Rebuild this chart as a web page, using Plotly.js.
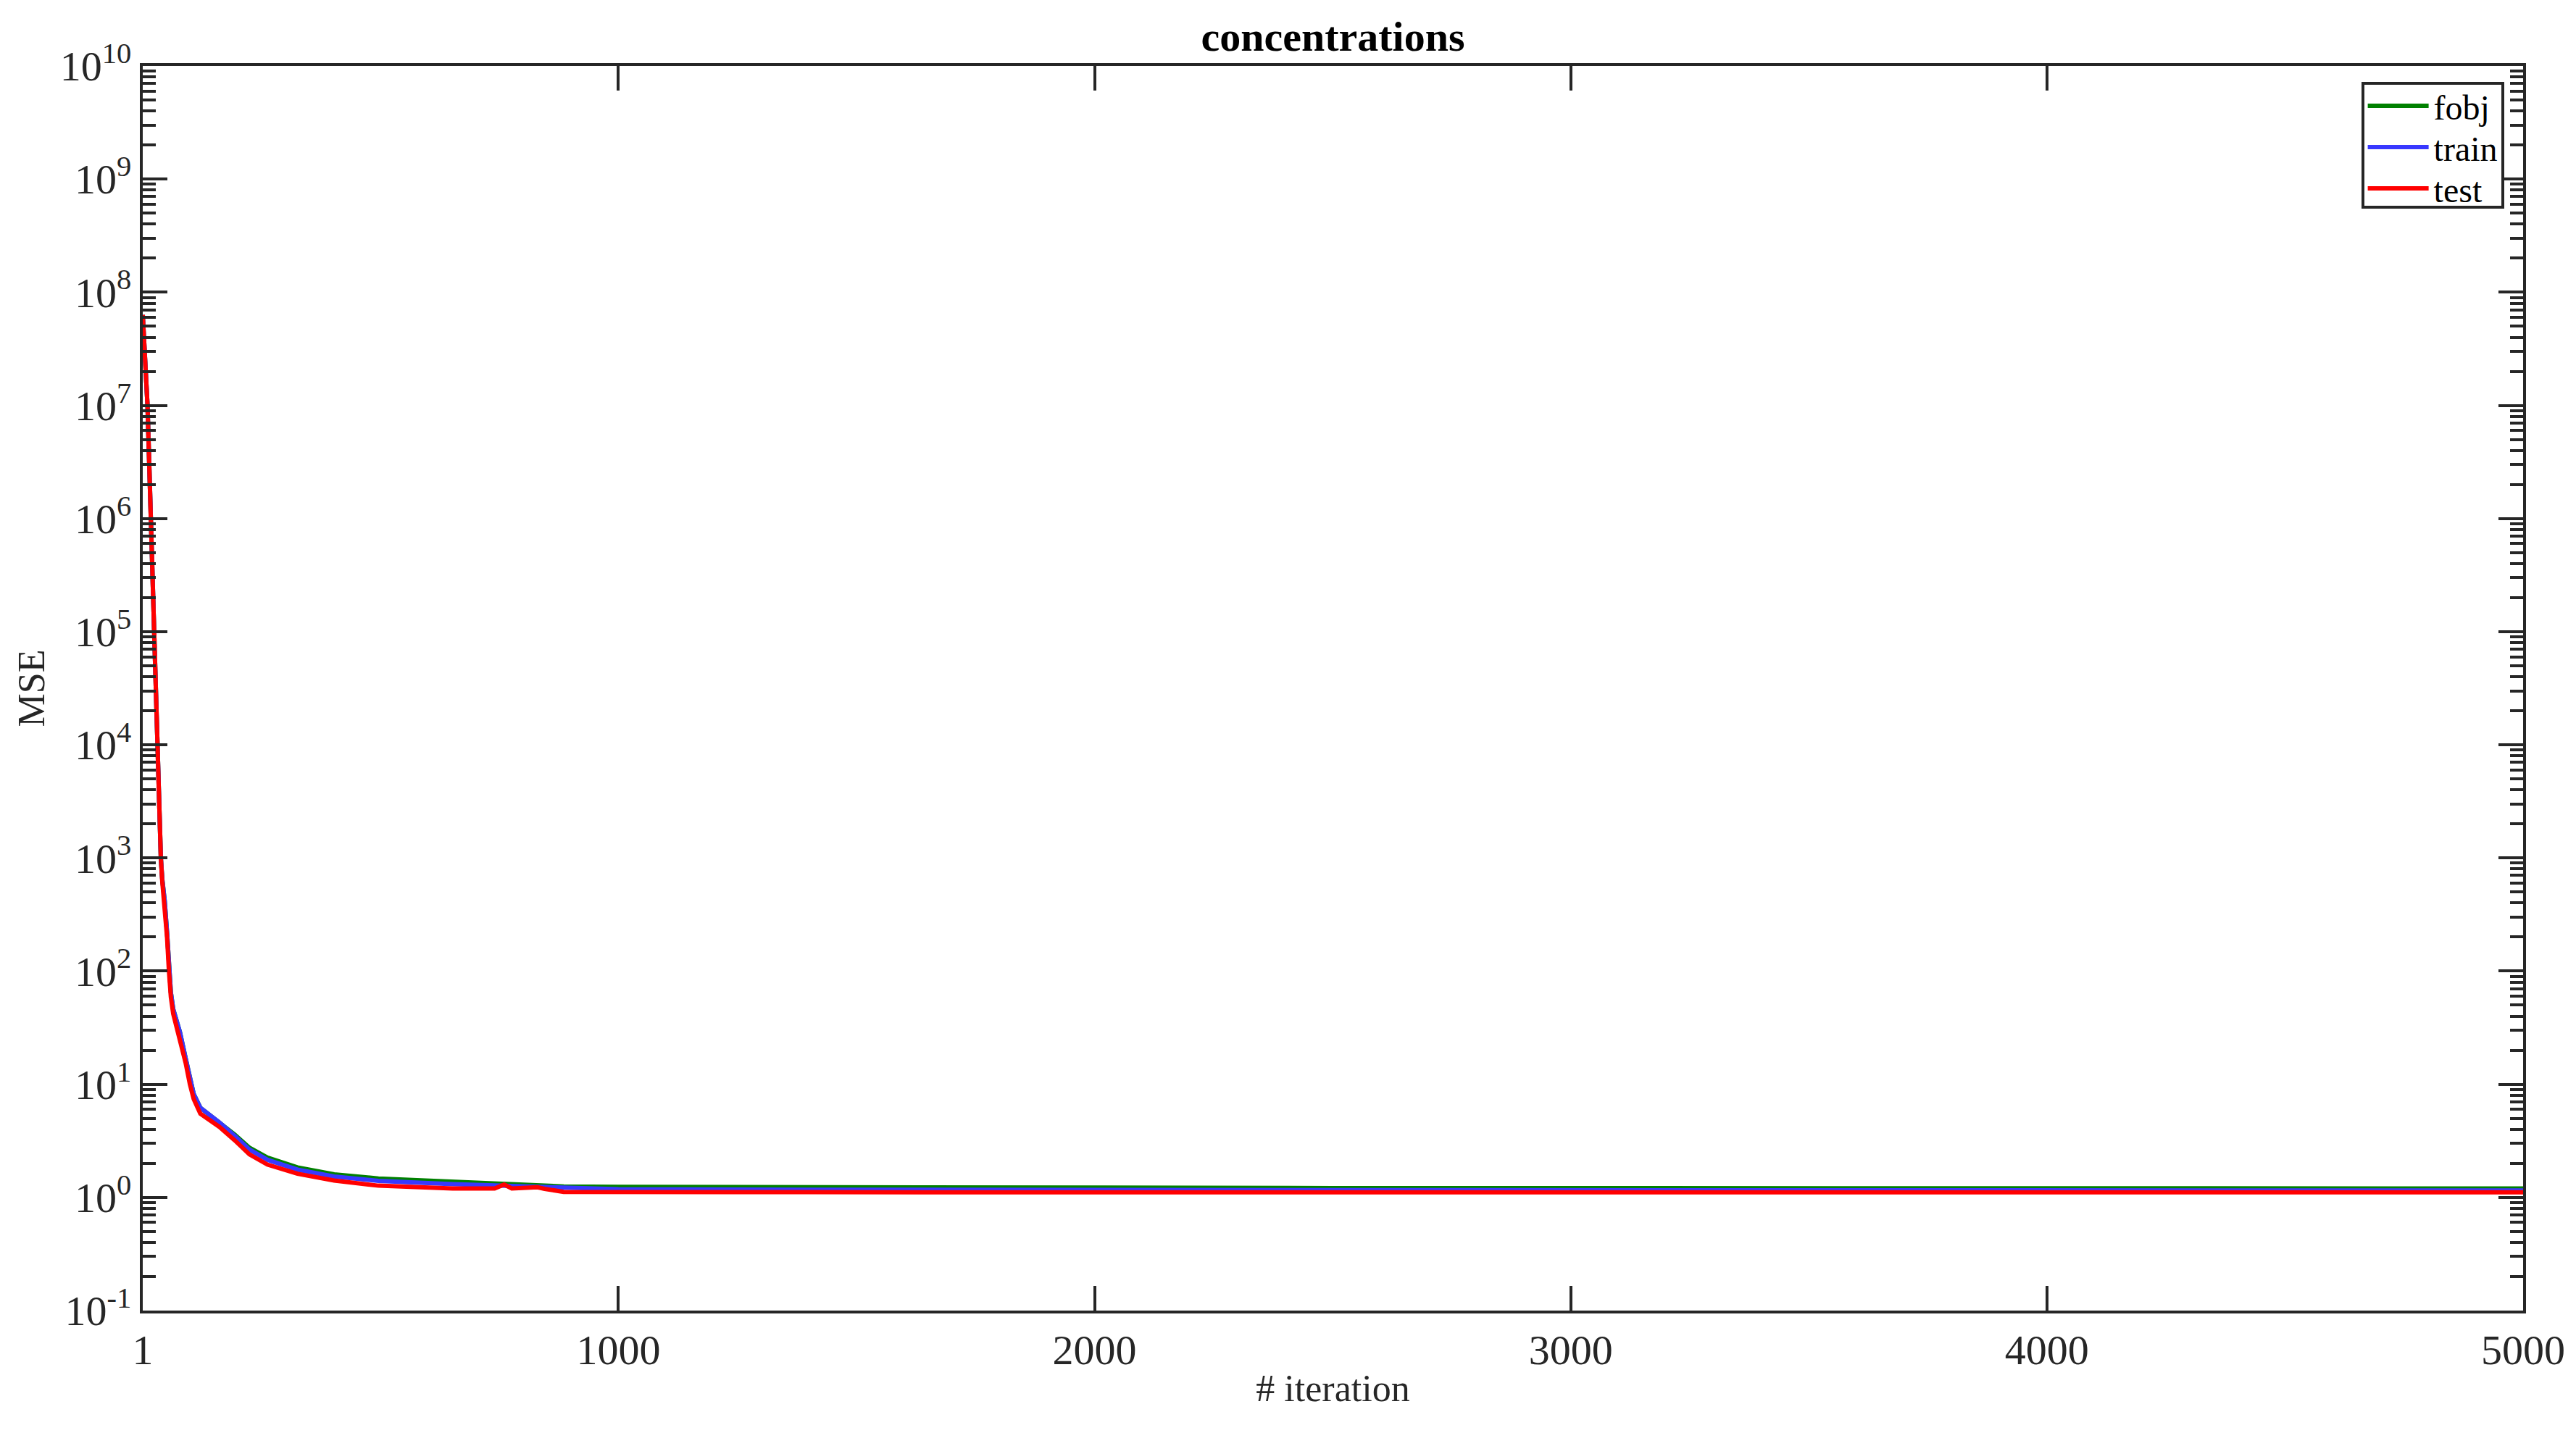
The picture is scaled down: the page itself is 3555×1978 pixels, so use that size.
<!DOCTYPE html>
<html>
<head>
<meta charset="utf-8">
<script src="https://cdn.plot.ly/plotly-3.0.1.min.js"></script>
<style>
  html, body { margin: 0; padding: 0; background: #fff; }
  #graph { width: 3555px; height: 1978px; }
</style>
</head>
<body>
<div id="graph"></div>
<script>
// iterations (shared by the three curves)
const iterations = [1, 6, 11, 18, 25, 32, 36, 39, 42, 47, 52, 56, 60, 65, 70, 79, 91, 100, 108, 122,
  162, 194, 225, 263, 326, 403, 496, 652, 740, 760, 776, 830, 845, 885, 1000, 1400, 1800, 2500, 5000];

// MSE values
const fobjMSE = [6.3e7, 2.2e7, 1e7, 1e6, 1e5, 1e4, 1600, 1000, 650, 420, 220, 110, 65, 46, 39, 29, 17, 11, 8.2, 6.2,
  4.6, 3.6, 2.75, 2.25, 1.84, 1.6, 1.47, 1.37, 1.32, 1.31, 1.30, 1.28, 1.27, 1.25, 1.24, 1.23, 1.22, 1.21, 1.20];
const trainMSE = [6.3e7, 2.2e7, 1e7, 1e6, 1e5, 1e4, 1600, 1000, 650, 420, 220, 110, 65, 46, 39, 29, 17, 11, 8.2, 6.2,
  4.6, 3.5, 2.65, 2.15, 1.76, 1.53, 1.40, 1.31, 1.27, 1.27, 1.26, 1.25, 1.24, 1.22, 1.18, 1.17, 1.16, 1.16, 1.15];
const testMSE = [6.3e7, 2.2e7, 1e7, 1e6, 1e5, 1e4, 1600, 1000, 620, 380, 200, 100, 59, 42, 35, 26, 15.5, 10, 7.4, 5.5,
  4.2, 3.2, 2.4, 1.95, 1.62, 1.41, 1.27, 1.2, 1.2, 1.3, 1.2, 1.23, 1.19, 1.12, 1.115, 1.112, 1.11, 1.11, 1.11];

const xTicks = [1, 1000, 2000, 3000, 4000, 5000];
const yExponents = [-1, 0, 1, 2, 3, 4, 5, 6, 7, 8, 9, 10];

const axisColor = '#262626';
const serif = 'Liberation Serif, Times New Roman, serif';

// minor ticks 2..9 in every decade
const minorVals = [];
for (let e = -1; e < 10; e++) {
  for (let m = 2; m <= 9; m++) minorVals.push(m * Math.pow(10, e));
}

const traces = [
  { x: iterations, y: fobjMSE, name: 'fobj', mode: 'lines', line: { color: '#008000', width: 6 } },
  { x: iterations, y: trainMSE, name: 'train', mode: 'lines', line: { color: '#3838ff', width: 6 } },
  { x: iterations, y: testMSE, name: 'test', mode: 'lines', line: { color: '#ff0000', width: 6 } }
];

const layout = {
  width: 3555,
  height: 1978,
  paper_bgcolor: '#ffffff',
  plot_bgcolor: '#ffffff',
  margin: { l: 197, r: 73, t: 91, b: 169 },
  font: { family: serif, color: axisColor, size: 52 },
  title: {
    text: '<b>concentrations</b>',
    font: { family: serif, size: 58, color: '#000000' },
    x: 0.5, xref: 'paper', xanchor: 'center',
    y: 1 - 50 / 1978, yref: 'container', yanchor: 'middle'
  },
  xaxis: {
    range: [1, 5000],
    tickmode: 'array',
    tickvals: xTicks,
    ticktext: xTicks.map(String),
    ticks: 'inside',
    ticklen: 34,
    tickwidth: 4,
    tickcolor: axisColor,
    showline: true,
    linewidth: 4,
    linecolor: axisColor,
    mirror: 'allticks',
    showgrid: false,
    zeroline: false,
    tickfont: { family: serif, size: 58, color: axisColor },
    title: { text: '# iteration', font: { family: serif, size: 52, color: axisColor }, standoff: 4 }
  },
  yaxis: {
    type: 'log',
    range: [-1, 10],
    tickmode: 'array',
    tickvals: yExponents.map(e => Math.pow(10, e)),
    ticktext: yExponents.map(e => '10<sup>' + e + '</sup>'),
    ticks: 'inside',
    ticklen: 34,
    tickwidth: 4,
    tickcolor: axisColor,
    minor: { tickmode: 'array', tickvals: minorVals, ticks: 'inside', ticklen: 18, tickwidth: 4, tickcolor: axisColor, showgrid: false },
    showline: true,
    linewidth: 4,
    linecolor: axisColor,
    mirror: 'allticks',
    showgrid: false,
    zeroline: false,
    tickfont: { family: serif, size: 58, color: axisColor },
    title: { text: 'MSE', font: { family: serif, size: 52, color: axisColor }, standoff: 6 }
  },
  showlegend: true,
  legend: {
    x: 0.932, xanchor: 'left',
    y: 0.987, yanchor: 'top',
    bgcolor: '#ffffff',
    bordercolor: axisColor,
    borderwidth: 4,
    itemwidth: 86,
    font: { family: serif, size: 48, color: '#000000' },
    tracegroupgap: 0
  }
};

Plotly.newPlot('graph', traces, layout, { staticPlot: true }).then(gd => {
  // stretch the legend line samples to fill the item width, like the MATLAB legend
  gd.querySelectorAll('.legend .legendlines path').forEach(p => p.setAttribute('d', 'M5,0h84'));

  // tighten the legend rows (MATLAB packs them closer than plotly does)
  const rowGap = 57;
  const items = gd.querySelectorAll('.legend .traces');
  let firstY = null;
  items.forEach((g, i) => {
    const m = /translate\(\s*([-\d.e]+)[ ,]+([-\d.e]+)\s*\)/.exec(g.getAttribute('transform') || '');
    if (!m) return;
    if (firstY === null) firstY = parseFloat(m[2]) - 9;
    g.setAttribute('transform', 'translate(' + m[1] + ',' + (firstY + i * rowGap) + ')');
  });
  const bg = gd.querySelector('.legend rect.bg');
  if (bg) bg.setAttribute('height', 171);
});
</script>
</body>
</html>
